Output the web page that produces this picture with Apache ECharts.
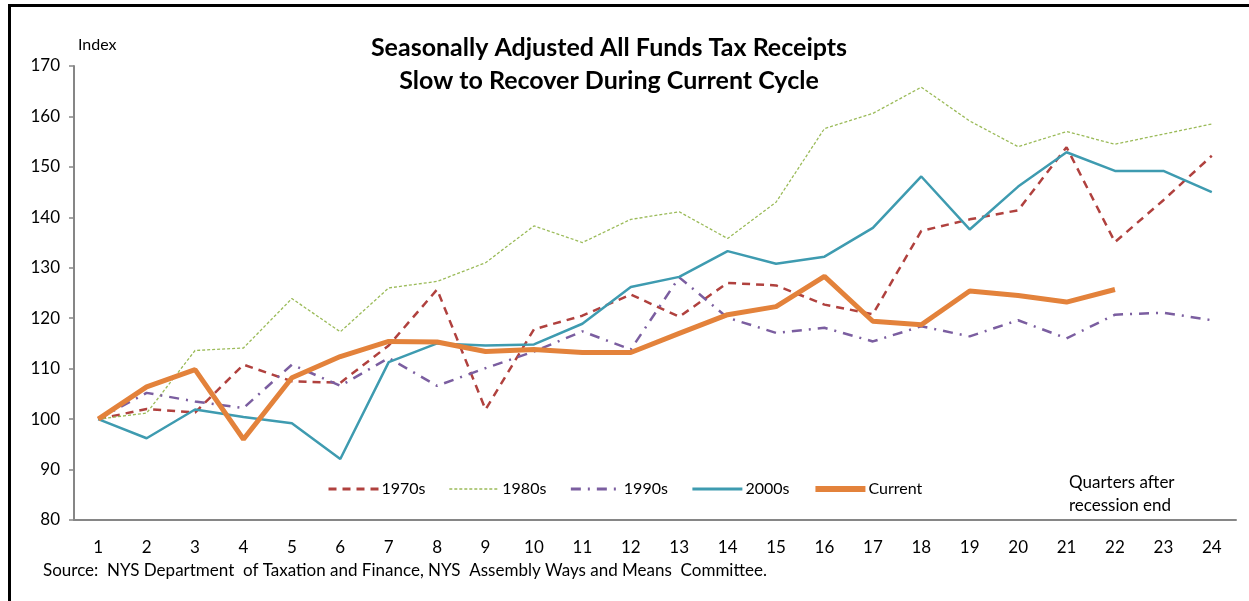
<!DOCTYPE html>
<html>
<head>
    <meta charset="utf-8">
    <title>Tax Receipts</title>
    <script src="https://cdn.jsdelivr.net/npm/echarts@6/dist/echarts.min.js"></script>
    <style>
        body { margin: 0; background: #fff; }
        #frame { position: absolute; left: 8px; top: 4px; width: 1260px; height: 620px;
                 border-left: 3px solid #000; border-top: 3px solid #000; }
        #main { position: absolute; left: 0; top: 0; width: 1249px; height: 601px; }
    </style>
</head>
<body>
<div id="frame"></div>
<div id="main"></div>

<script type="text/javascript">
    // quarters after recession end
    var quarters = ['1','2','3','4','5','6','7','8','9','10','11','12',
                    '13','14','15','16','17','18','19','20','21','22','23','24'];

    var s1970 = [100, 102.0, 101.3, 110.8, 107.5, 107.2, 114.6, 125.7, 101.9, 117.8, 120.5, 124.7,
                 120.3, 127.0, 126.5, 122.7, 120.8, 137.3, 139.6, 141.4, 153.9, 135.1, 143.4, 152.2];
    var s1980 = [100, 101.2, 113.6, 114.1, 123.9, 117.3, 126.0, 127.3, 131.0, 138.3, 135.0, 139.6,
                 141.1, 135.8, 143.0, 157.6, 160.6, 165.8, 159.1, 154.0, 157.0, 154.5, 156.5, 158.5];
    var s1990 = [100, 105.2, 103.5, 102.2, 110.8, 106.6, 112.1, 106.6, 110.1, 113.4, 117.4, 113.8,
                 128.1, 120.1, 117.1, 118.1, 115.4, 118.4, 116.4, 119.6, 116.0, 120.7, 121.1, 119.6];
    var s2000 = [100, 96.2, 101.9, 100.4, 99.2, 92.1, 111.3, 115.0, 114.6, 114.8, 118.9, 126.2,
                 128.2, 133.3, 130.8, 132.2, 137.9, 148.1, 137.6, 146.1, 152.9, 149.2, 149.2, 145.0];
    var current = [100, 106.4, 109.8, 96.0, 108.2, 112.4, 115.4, 115.3, 113.4, 113.8, 113.2, 113.2,
                   117.0, 120.7, 122.3, 128.3, 119.4, 118.7, 125.4, 124.5, 123.2, 125.7];

    var yTicks = { min: 80, max: 170, step: 10 };

    var myChart = echarts.init(document.getElementById('main'));
    var font = 'Lato, "Open Sans", sans-serif';

    function line(name, data, color, width, type) {
        return {
            name: name,
            type: 'line',
            data: data,
            symbol: 'none',
            lineStyle: { color: color, width: width, type: type },
            itemStyle: { color: color },
            z: name == 'Current' ? 5 : 3
        };
    }

    var option = {
        animation: false,
        textStyle: { fontFamily: font, color: '#000' },
        title: {
            text: 'Seasonally Adjusted All Funds Tax Receipts\nSlow to Recover During Current Cycle',
            left: 604,
            top: 26,
            textAlign: 'center',
            textStyle: { fontFamily: font, fontSize: 25, fontWeight: 'bold', color: '#000', lineHeight: 33 }
        },
        legend: {
            left: 322,
            top: 476,
            itemWidth: 50,
            itemHeight: 16,
            itemGap: 23,
            itemStyle: { opacity: 0 },
            textStyle: { fontFamily: font, fontSize: 16, color: '#000', padding: [0, 0, 0, -2] },
            data: [
                { name: '1970s', lineStyle: { width: 3 } },
                { name: '1980s', lineStyle: { width: 1.5 } },
                { name: '1990s', lineStyle: { width: 3 } },
                { name: '2000s', lineStyle: { width: 3 } },
                { name: 'Current', lineStyle: { width: 6 } }
            ]
        },
        grid: { left: 74, right: 13, top: 66, bottom: 81 },
        xAxis: {
            type: 'category',
            data: quarters,
            boundaryGap: true,
            axisLine: { lineStyle: { color: '#868686', width: 2 } },
            axisTick: { length: 6, lineStyle: { color: '#868686', width: 1.5 } },
            axisLabel: { fontSize: 17, color: '#000', margin: 19, fontFamily: font }
        },
        yAxis: {
            type: 'value',
            min: yTicks.min,
            max: yTicks.max,
            interval: yTicks.step,
            name: 'Index',
            nameLocation: 'end',
            nameGap: 13,
            nameTextStyle: { fontSize: 16, color: '#000', align: 'left', padding: [0, 0, 0, 4], fontFamily: font },
            axisLine: { show: true, lineStyle: { color: '#868686', width: 2 } },
            axisTick: { show: true, length: 5, lineStyle: { color: '#868686', width: 1.5 } },
            axisLabel: { fontSize: 17, color: '#000', margin: 14, fontFamily: font },
            splitLine: { show: false }
        },
        graphic: [
            {
                type: 'text', left: 1069, top: 471,
                style: { text: 'Quarters after\nrecession end', fontSize: 17, lineHeight: 23,
                         fill: '#000', fontFamily: font }
            },
            {
                type: 'text', left: 43, top: 562,
                style: { text: 'Source:  NYS Department  of Taxation and Finance, NYS  Assembly Ways and Means  Committee.',
                         fontSize: 17, fill: '#000', fontFamily: font }
            }
        ],
        series: [
            line('1970s', s1970, '#B0413E', 2.5, [8, 6]),
            line('1980s', s1980, '#9BBB59', 1.3, [3, 2]),
            line('1990s', s1990, '#7B5EA0', 2.5, [10, 7, 2, 7]),
            line('2000s', s2000, '#3E9BB0', 2.5, 'solid'),
            line('Current', current, '#E3823B', 5, 'solid')
        ]
    };
    myChart.setOption(option);
</script>
</body>
</html>
